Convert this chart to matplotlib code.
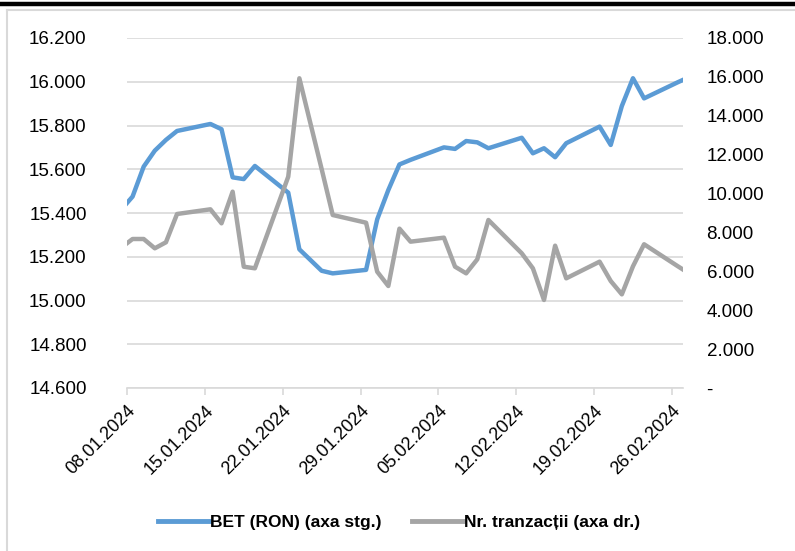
import matplotlib
matplotlib.use('Agg')
import matplotlib.pyplot as plt
from matplotlib.lines import Line2D
from matplotlib.ticker import FuncFormatter
from datetime import datetime, timedelta

plt.rcParams['font.family'] = ['Liberation Sans', 'DejaVu Sans']

# trading days (05.01 and 27.02 fall outside the axis and get clipped)
zile = ['05.01.2024', '08.01.2024', '09.01.2024', '10.01.2024', '11.01.2024', '12.01.2024',
        '15.01.2024', '16.01.2024', '17.01.2024', '18.01.2024', '19.01.2024',
        '22.01.2024', '23.01.2024', '25.01.2024', '26.01.2024',
        '29.01.2024', '30.01.2024', '31.01.2024', '01.02.2024', '02.02.2024',
        '05.02.2024', '06.02.2024', '07.02.2024', '08.02.2024', '09.02.2024',
        '12.02.2024', '13.02.2024', '14.02.2024', '15.02.2024', '16.02.2024',
        '19.02.2024', '20.02.2024', '21.02.2024', '22.02.2024', '23.02.2024',
        '26.02.2024', '27.02.2024']
bet = [15300, 15475, 15612, 15685, 15734, 15775,
       15807, 15783, 15563, 15555, 15615,
       15493, 15234, 15136, 15124,
       15140, 15371, 15505, 15622, 15643,
       15700, 15693, 15729, 15723, 15696,
       15744, 15673, 15696, 15655, 15719,
       15795, 15711, 15889, 16016, 15924,
       15997, 16020]
tranzactii = [6350, 7663, 7663, 7184, 7493, 8949,
              9190, 8470, 10096, 6238, 6156,
              10867, 15928, 11270, 8897,
              8501, 5981, 5246, 8195, 7526,
              7731, 6240, 5897, 6617, 8640,
              6926, 6155, 4526, 7320, 5640,
              6497, 5503, 4817, 6257, 7392,
              6274, 5910]
etichete_x = ['08.01.2024', '15.01.2024', '22.01.2024', '29.01.2024',
              '05.02.2024', '12.02.2024', '19.02.2024', '26.02.2024']

# points sit in the middle of each day slot (Excel "between tick marks")
x = [datetime.strptime(d, '%d.%m.%Y') + timedelta(hours=12) for d in zile]
ticks = [datetime.strptime(d, '%d.%m.%Y') for d in etichete_x]

fig = plt.figure(figsize=(7.95, 5.51), dpi=100)
ax = fig.add_axes([127/795, 1-388/551, 556/795, 350/551])
ax2 = ax.twinx()

blue = '#5B9BD5'
grey = '#A5A5A5'
ax.plot(x, bet, color=blue, lw=3.2, solid_joinstyle='round', solid_capstyle='butt')
ax2.plot(x, tranzactii, color=grey, lw=3.2, solid_joinstyle='round', solid_capstyle='butt')

ax.set_xlim(datetime(2024, 1, 8), datetime(2024, 2, 27))
ax.set_ylim(14600, 16200)
ax2.set_ylim(0, 18000)
ax.set_yticks(range(14600, 16201, 200))
ax2.set_yticks(range(0, 18001, 2000))

ax.yaxis.set_major_formatter(FuncFormatter(lambda v, p: f'{int(v):,}'.replace(',', '.')))
ax2.yaxis.set_major_formatter(FuncFormatter(lambda v, p: '-' if v == 0 else f'{int(v):,}'.replace(',', '.')))

ax.set_xticks(ticks)
ax.set_xticklabels(etichete_x, rotation=45, ha='right', rotation_mode='anchor')

ax.grid(axis='y', color='#D9D9D9', lw=1.2)
ax.set_axisbelow(True)
for a in (ax, ax2):
    for s in a.spines.values():
        s.set_visible(False)
ax.spines['bottom'].set_visible(True)
ax.spines['bottom'].set_color('#D9D9D9')
ax.spines['bottom'].set_linewidth(1.2)

ax.tick_params(axis='y', length=0, pad=29, labelsize=13.5)
ax2.tick_params(axis='y', length=0, pad=17, labelsize=13.5)
ax.tick_params(axis='x', length=5, color='#D9D9D9', width=1.2, pad=5, labelsize=13)

handles = [Line2D([], [], color=blue, lw=3.5), Line2D([], [], color=grey, lw=3.5)]
fig.legend(handles, ['BET (RON) (axa stg.)', 'Nr. tranzacții (axa dr.)'],
           loc='center', bbox_to_anchor=(399/795, 1-522/551), ncol=2, frameon=False,
           prop={'weight': 'bold', 'size': 12.5}, handlelength=2.9, handletextpad=0.05,
           columnspacing=1.8)

# frame of the original document
fig.add_artist(Line2D([0, 1], [1-4/551, 1-4/551], color='black', lw=3.2, transform=fig.transFigure))
fig.add_artist(Line2D([7/795, 7/795], [0, 1-10/551], color='#D9D9D9', lw=1.5, transform=fig.transFigure))
fig.add_artist(Line2D([7/795, 1], [1-10/551, 1-10/551], color='#D9D9D9', lw=1.5, transform=fig.transFigure))

fig.savefig('out.png', dpi=100)
